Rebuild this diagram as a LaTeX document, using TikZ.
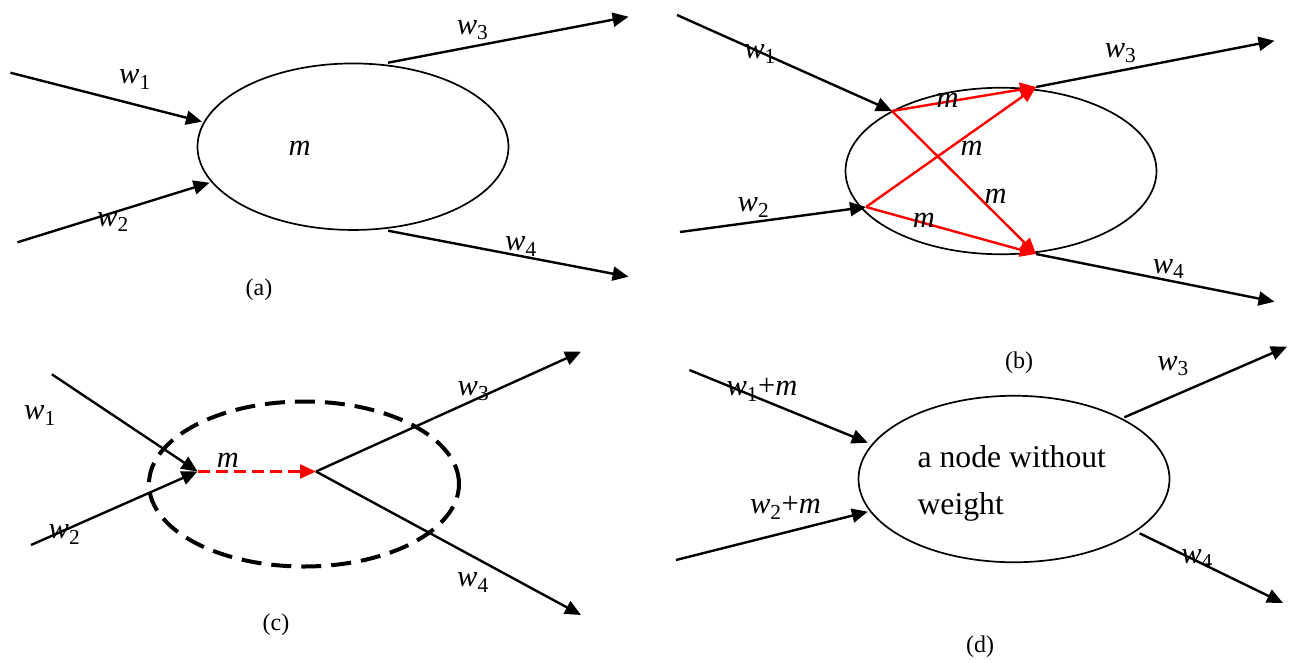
\documentclass[tikz,border=0pt]{standalone}
\usepackage{fontspec}
\setmainfont{Liberation Serif}
\usetikzlibrary{arrows.meta,shapes.geometric}
\newcommand\wsub[1]{\textit{w}\textsubscript{#1}}
\begin{document}
\begin{tikzpicture}[x=1pt,y=-1pt,
  lbl/.style={font=\fontsize{30.5}{36}\selectfont, inner sep=0pt},
  captext/.style={font=\fontsize{24}{29}\selectfont, inner sep=0pt},
  blob/.style={draw, ellipse, line width=1.7pt, minimum width=311pt, minimum height=166.5pt, inner sep=0pt},
  dblob/.style={blob, line width=4pt, minimum width=310pt, minimum height=165pt, dash pattern=on 20pt off 10pt},
  arr/.style={line width=2.4pt, -{Triangle[length=16pt,width=14pt]}},
  rarr/.style={line width=2.4pt, red, -{Triangle[length=16pt,width=14pt]}},
  rdarr/.style={rarr, dash pattern=on 12pt off 6pt},
  bodytext/.style={font=\fontsize{31.7}{46.6}\selectfont, align=left, inner sep=0pt}
]
\useasboundingbox (0,0) rectangle (1301,662);

% ---------- (a)
\node[blob] (ea) at (353,146.7) {};
\coordinate (a1s) at (10.4,72.7);
\coordinate (a1t) at (202,121.7);
\coordinate (a2s) at (17.4,242.3);
\coordinate (a2t) at (209.5,182.7);
\coordinate (a3s) at (388,62.7);
\coordinate (a3t) at (628.6,16.7);
\coordinate (a4s) at (388,230.7);
\coordinate (a4t) at (628.6,276.7);
\draw[arr] (a1s) -- (a1t);
\draw[arr] (a2s) -- (a2t);
\draw[arr] (a3s) -- (a3t);
\draw[arr] (a4s) -- (a4t);
\node[lbl] (la1) at (135,79.5) {\wsub{1}};
\node[lbl] (la2) at (113,222) {\wsub{2}};
\node[lbl] (la3) at (472.6,30) {\wsub{3}};
\node[lbl] (la4) at (521,246.7) {\wsub{4}};
\node[lbl] (lam) at (299.6,148.3) {\textit{m}};
\node[captext] (capa) at (259,290) {(a)};

% ---------- (b)
\node[blob] (eb) at (1001,171) {};
\coordinate (b1s) at (677,15);
\coordinate (b1t) at (892,111);
\coordinate (b2s) at (680,232);
\coordinate (b2t) at (866,207);
\coordinate (b3s) at (1036,87);
\coordinate (b3t) at (1274.5,40.7);
\coordinate (b4s) at (1036,254);
\coordinate (b4t) at (1274.5,301.7);
\draw[arr] (b1s) -- (b1t);
\draw[arr] (b2s) -- (b2t);
\draw[arr] (b3s) -- (b3t);
\draw[arr] (b4s) -- (b4t);
\draw[rarr] (b1t) -- (b3s);
\draw[rarr] (b2t) -- (b3s);
\draw[rarr] (b1t) -- (b4s);
\draw[rarr] (b2t) -- (b4s);
\node[lbl] (lb1) at (760,54) {\wsub{1}};
\node[lbl] (lb2) at (753.5,207.5) {\wsub{2}};
\node[lbl] (lb3) at (1120.5,53) {\wsub{3}};
\node[lbl] (lb4) at (1168.6,269) {\wsub{4}};
\node[lbl] (lbm1) at (947.7,100) {\textit{m}};
\node[lbl] (lbm2) at (971.6,148.8) {\textit{m}};
\node[lbl] (lbm3) at (995.6,196.7) {\textit{m}};
\node[lbl] (lbm4) at (924,220.7) {\textit{m}};
\node[captext] (capb) at (1019,363) {(b)};

% ---------- (c)
\node[dblob] (ec) at (304,484) {};
\coordinate (c1s) at (51.9,374.3);
\coordinate (c2s) at (31,545);
\coordinate (cm) at (197.5,471.5);
\coordinate (cx) at (316,471.5);
\coordinate (c3t) at (581,351.7);
\coordinate (c4t) at (581,615);
\draw[arr] (c1s) -- (cm);
\draw[arr] (c2s) -- (cm);
\draw[rdarr] (cm) -- (cx);
\draw[arr] (cx) -- (c3t);
\draw[arr] (cx) -- (c4t);
\node[lbl] (lc1) at (40,415.5) {\wsub{1}};
\node[lbl] (lc2) at (64.5,534.5) {\wsub{2}};
\node[lbl] (lcm) at (227.8,460.8) {\textit{m}};
\node[lbl] (lc3) at (473.5,391) {\wsub{3}};
\node[lbl] (lc4) at (473,582.5) {\wsub{4}};
\node[captext] (capc) at (276,625) {(c)};

% ---------- (d)
\node[blob] (ed) at (1014,479) {};
\node[bodytext] (dtext) at (1011.8,483.5) {a node without\\weight};
\coordinate (d1s) at (689.4,370);
\coordinate (d1t) at (867.8,442.7);
\coordinate (d2s) at (676,560);
\coordinate (d2t) at (867.8,511.7);
\coordinate (d3s) at (1124.3,417.3);
\coordinate (d3t) at (1287,346.7);
\coordinate (d4s) at (1139.6,533.3);
\coordinate (d4t) at (1283,603);
\draw[arr] (d1s) -- (d1t);
\draw[arr] (d2s) -- (d2t);
\draw[arr] (d3s) -- (d3t);
\draw[arr] (d4s) -- (d4t);
\node[lbl] (ld1) at (762,390) {\wsub{1}+\textit{m}};
\node[lbl] (ld2) at (785.4,508) {\wsub{2}+\textit{m}};
\node[lbl] (ld3) at (1173,366) {\wsub{3}};
\node[lbl] (ld4) at (1197,559) {\wsub{4}};
\node[captext] (capd) at (980,647) {(d)};
\end{tikzpicture}
\end{document}
